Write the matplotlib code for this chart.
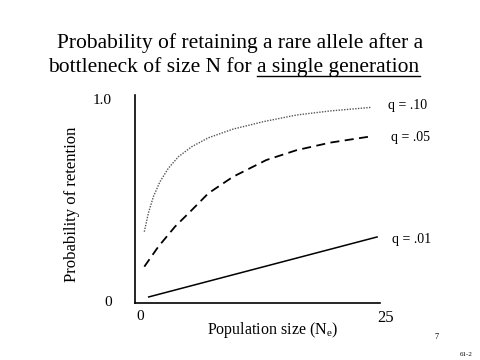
import matplotlib
matplotlib.use('Agg')
import matplotlib.pyplot as plt
from matplotlib.lines import Line2D

plt.rcParams['font.family'] = ['Liberation Serif', 'DejaVu Serif']

# values
n_high = [0.95, 1.36, 1.87, 2.55, 3.4, 4.42, 5.79, 7.48, 10.0, 13.1, 16.5, 19.9, 24.15]
p_high = [0.348, 0.439, 0.521, 0.596, 0.662, 0.719, 0.769, 0.813, 0.856, 0.893, 0.926, 0.946, 0.964]
n_mid = [0.95, 2.38, 4.08, 5.79, 7.48, 10.0, 13.4, 16.5, 19.9, 23.8]
p_mid = [0.175, 0.274, 0.373, 0.455, 0.538, 0.620, 0.703, 0.752, 0.789, 0.818]
n_low = [1.4, 24.7]
p_low = [0.025, 0.322]
labels = ['q = .10', 'q = .05', 'q = .01']

W, H = 480, 360
fig = plt.figure(figsize=(4.8, 3.6), dpi=100)
ax = fig.add_axes([135 / W, 1 - 303 / H, 245 / W, 208 / H])
ax.set_xlim(0, 25)
ax.set_ylim(-0.005, 1.025)

ax.plot(n_high, p_high, color='#555555', lw=1.0, ls=(0, (1, 1)))
ax.plot(n_mid, p_mid, color='black', lw=1.3, ls=(0, (5, 3)))
ax.plot(n_low, p_low, color='black', lw=1.1)

for s in ['top', 'right']:
    ax.spines[s].set_visible(False)
for s in ['left', 'bottom']:
    ax.spines[s].set_linewidth(1.2)
ax.set_xticks([])
ax.set_yticks([])

def ftext(x, y, s, **kw):
    return fig.text(x / W, 1 - y / H, s, **kw)

ftext(112, 100, '1.0', fontsize=11, ha='right', va='center')
ftext(112, 302, '0', fontsize=11, ha='right', va='center')
ftext(140, 316, '0', fontsize=11, ha='center', va='center')
ftext(386, 318, '25', fontsize=12, ha='center', va='center')

ftext(388, 105, labels[0], fontsize=10, ha='left', va='center')
ftext(391, 137, labels[1], fontsize=10, ha='left', va='center')
ftext(392, 240, labels[2], fontsize=10, ha='left', va='center')

ftext(72, 204, 'Probability of retention', fontsize=12, rotation=90, ha='center', va='center')
ftext(273, 330, 'Population size (N$_\\mathregular{e}$)', fontsize=11.5, ha='center', va='center')

ftext(240, 43, 'Probability of retaining a rare allele after a', fontsize=15.5, ha='center', va='center')
line2 = ftext(234, 67, 'bottleneck of size N for a single generation', fontsize=15.5, ha='center', va='center')

ftext(437, 337, '7', fontsize=6, ha='center', va='center')
ftext(466, 354, '61-2', fontsize=5, ha='center', va='center')

# underline "a single generation"
fig.canvas.draw()
r = fig.canvas.get_renderer()
bb = line2.get_window_extent(r)
tmp = fig.text(0, 0, 'a single generation', fontsize=15.5)
w = tmp.get_window_extent(r).width
tmp.remove()
uy = bb.y0 + 1
fig.add_artist(Line2D([(bb.x1 - w) / W, bb.x1 / W], [uy / H, uy / H], color='black', lw=1.0))

fig.savefig('out.png', dpi=100)
